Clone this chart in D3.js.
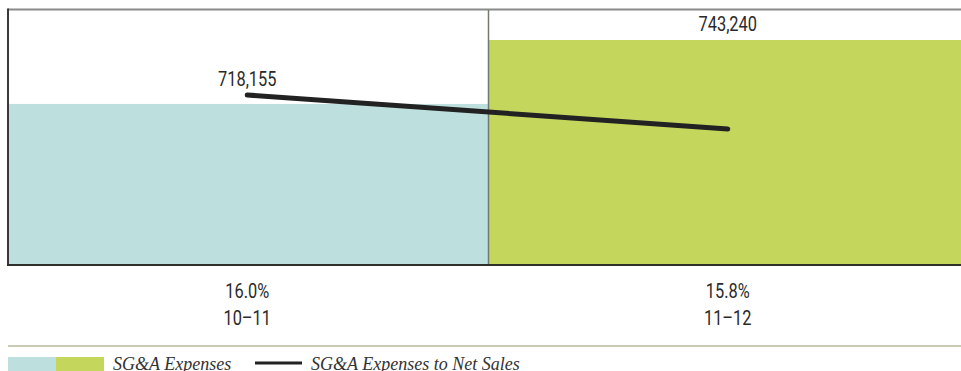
<!DOCTYPE html>
<html>
<head>
<meta charset="utf-8">
<script src="https://cdn.jsdelivr.net/npm/d3@7"></script>
<style>
  body { margin: 0; background: #fff; }
  .num { font-family: Roboto, "Liberation Sans", sans-serif; font-size: 21px; fill: #2a2a2a; }
  .leg { font-family: "Liberation Serif", "DejaVu Serif", serif; font-style: italic; font-size: 18px; fill: #333; }
</style>
</head>
<body>
<div id="chart"></div>
<script>
// fiscal years
const years = ['10\u201311', '11\u201312'];
// SG&A expenses (bars)
const expenses = [718155, 743240];
// SG&A expenses to net sales, percent (line)
const ratio = [16.0, 15.8];
const barColors = ['#bddfdd', '#c4d65c'];

const width = 961, height = 371;
const svg = d3.select('#chart').append('svg')
  .attr('width', width)
  .attr('height', height);

// plot area
const plotLeft = 8, plotRight = 969, plotTop = 10, plotBottom = 265;

const x = d3.scaleBand()
  .domain(years)
  .range([plotLeft, plotRight])
  .padding(0);

const y = d3.scaleLinear()
  .domain([655000, 755000])
  .range([plotBottom, plotTop]);

// second scale for the ratio line
const y2 = d3.scaleLinear()
  .domain([15.0, 16.5])
  .range([plotBottom, plotTop]);

const data = years.map(function(d, i) {
  return {year: d, value: expenses[i], pct: ratio[i], color: barColors[i]};
});

function cx(d) { return x(d.year) + x.bandwidth() / 2 - 1 }

// condensed-looking label: squeeze a normal face horizontally
function label(yFn, textFn) {
  let g = svg.selectAll(null)
    .data(data)
    .enter().append('g')
    .attr('transform', function(d) { return 'translate(' + cx(d) + ',' + yFn(d) + ') scale(0.78,1)' });
  g.append('text')
    .attr('class', 'num')
    .attr('text-anchor', 'middle')
    .text(textFn);
}

// bars
svg.selectAll('rect.bar')
  .data(data)
  .enter().append('rect')
  .attr('class', 'bar')
  .attr('x', function(d) { return x(d.year) })
  .attr('y', function(d) { return y(d.value) })
  .attr('width', x.bandwidth())
  .attr('height', function(d) { return plotBottom - y(d.value) })
  .style('fill', function(d) { return d.color });

// frame: top rule, left edge, divider, baseline
svg.append('line')
  .attr('x1', plotLeft).attr('x2', width)
  .attr('y1', plotTop - 0.5).attr('y2', plotTop - 0.5)
  .style('stroke', '#8a8a8a').style('stroke-width', 2);
svg.append('line')
  .attr('x1', plotLeft).attr('x2', plotLeft)
  .attr('y1', plotTop - 1.5).attr('y2', plotBottom)
  .style('stroke', '#3a3a3a').style('stroke-width', 2);
svg.append('line')
  .attr('x1', x(years[1])).attr('x2', x(years[1]))
  .attr('y1', plotTop).attr('y2', plotBottom)
  .style('stroke', '#6f7a70').style('stroke-width', 1.5);
svg.append('line')
  .attr('x1', plotLeft - 1).attr('x2', width)
  .attr('y1', plotBottom).attr('y2', plotBottom)
  .style('stroke', '#2e2e2a').style('stroke-width', 2);

// ratio line
const line = d3.line()
  .x(cx)
  .y(function(d) { return y2(d.pct) });

svg.append('path')
  .datum(data)
  .attr('d', line)
  .style('fill', 'none')
  .style('stroke', '#222')
  .style('stroke-width', 5)
  .style('stroke-linecap', 'round');

// value labels sit above whichever is higher, bar top or line point
label(function(d) { return Math.min(y(d.value), y2(d.pct)) - 9 },
  function(d) { return d3.format(',')(d.value) });

// percent and year labels under the plot
label(function() { return 298 }, function(d) { return d.pct.toFixed(1) + '%' });
label(function() { return 325 }, function(d) { return d.year });

// separator above legend
svg.append('line')
  .attr('x1', plotLeft).attr('x2', width)
  .attr('y1', 346).attr('y2', 346)
  .style('stroke', '#b7ba9c').style('stroke-width', 1.5);

// legend
const legend = svg.append('g').attr('transform', 'translate(' + plotLeft + ',357)');
legend.selectAll('rect')
  .data(barColors)
  .enter().append('rect')
  .attr('x', function(d, i) { return i * 48 })
  .attr('y', 0)
  .attr('width', 48)
  .attr('height', 14)
  .style('fill', function(d) { return d });
legend.append('text')
  .attr('class', 'leg')
  .attr('x', 105).attr('y', 13)
  .text('SG&A Expenses');
legend.append('line')
  .attr('x1', 247).attr('x2', 294)
  .attr('y1', 6).attr('y2', 6)
  .style('stroke', '#222').style('stroke-width', 3);
legend.append('text')
  .attr('class', 'leg')
  .attr('x', 303).attr('y', 13)
  .text('SG&A Expenses to Net Sales');
</script>
</body>
</html>
